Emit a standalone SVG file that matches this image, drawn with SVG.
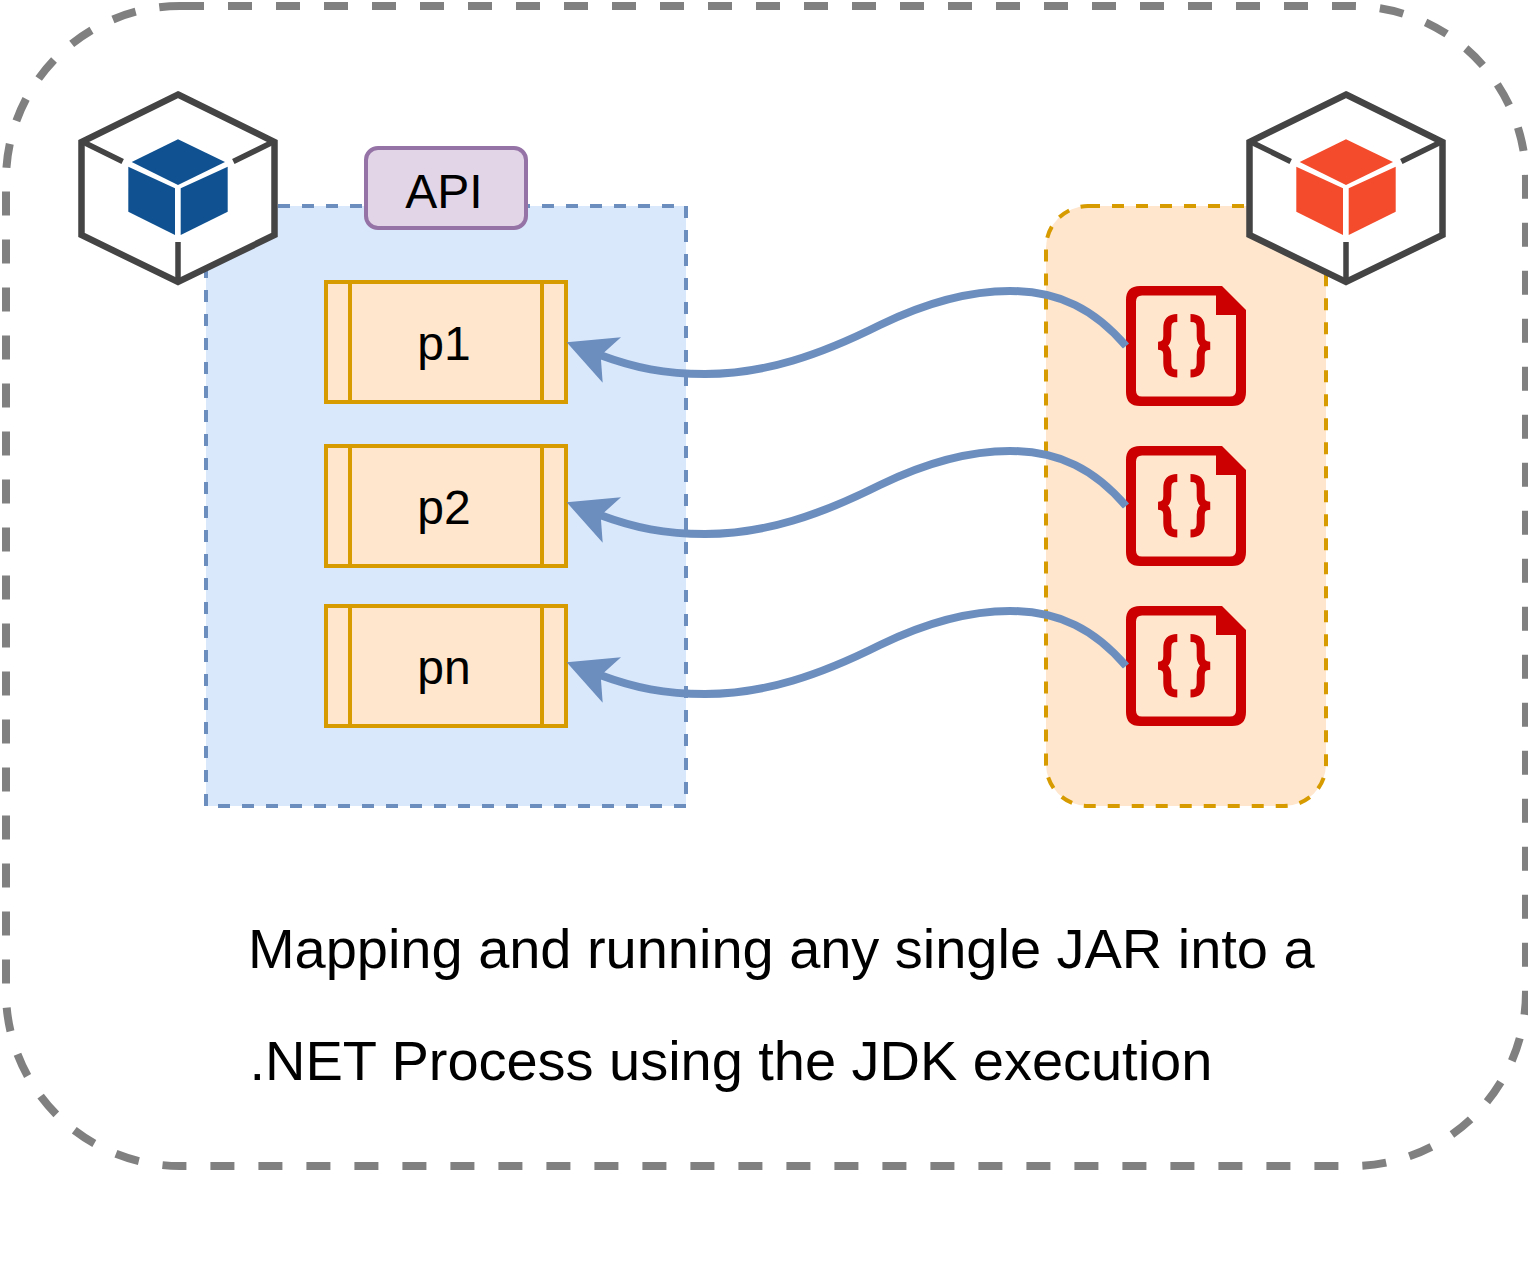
<svg xmlns="http://www.w3.org/2000/svg" xmlns:xlink="http://www.w3.org/1999/xlink" width="1528" height="1272" viewBox="0 0 1528 1272">
<style>
text{font-family:"Liberation Sans",Arial,sans-serif;fill:#000;font-size:48px}
.c{text-anchor:middle}
.main{font-size:56px;letter-spacing:-0.03px}
.box{fill:#ffe6cc;stroke:#d79b00;stroke-width:4}
.div{fill:none;stroke:#d79b00;stroke-width:4}
.shell{fill:#fff;stroke:#444;stroke-width:6.500;stroke-linejoin:miter}
.spoke{fill:none;stroke:#444;stroke-width:5.500}
.conn{fill:none;stroke:#6c8ebf;stroke-width:8}
.head{fill:#6c8ebf}
.fileBody{fill:#cc0000;fill-rule:evenodd}
.brace{fill:none;stroke:#cc0000;stroke-width:8}
</style>
<defs>
<g id="cubeFrame">
<path class="shell" d="M178 94.500L274.500 142L274.500 235L178 282L81.500 235L81.500 142Z"/>
<path class="spoke" d="M81 141L122.700 161.500M275 141L233.300 161.500M178 282L178 242"/>
</g>
<g id="cubeFaces">
<path d="M178 139.300L225 162L178 185L131.700 162Z"/>
<path d="M128.300 166.700L175 188.300L175 235L128.300 211.700Z"/>
<path d="M227.700 166.700L180.700 188.300L180.700 235L227.700 211.700Z"/>
</g>
<g id="file">
<path class="fileBody" d="M1140 286L1222 286L1246 310L1246 392Q1246 406 1232 406L1140 406Q1126 406 1126 392L1126 300Q1126 286 1140 286ZM1142 295.500Q1136 295.500 1136 301.500L1136 390.500Q1136 396.500 1142 396.500L1230 396.500Q1236 396.500 1236 390.500L1236 315L1216 315L1216 295.500Z"/>
<path class="brace" d="M1177.300 318C1170 318 1167.300 321 1167.300 328L1167.300 336C1167.300 342 1165 345 1158.500 345.700C1165 346.500 1167.300 349 1167.300 355L1167.300 363C1167.300 370 1170 373.500 1177.300 373.500"/>
<path class="brace" d="M1190.500 318C1198 318 1200.700 321 1200.700 328L1200.700 336C1200.700 342 1203 345 1209.800 345.700C1203 346.500 1200.700 349 1200.700 355L1200.700 363C1200.700 370 1198 373.500 1190.500 373.500"/>
</g>
<g id="arrow">
<path class="conn" d="M1126 346C1095 310 1060 291 1010 291C960 291 915 308 880 325C820 355 765 374 705 374C665 374 635 368 600 355"/>
<path class="head" d="M566.700 342.300L621 337.300L603.500 353L601 360L602.700 382.700Z"/>
</g>
</defs>
<g id="outer-frame">
<rect x="6" y="6" width="1520" height="1160" rx="174" fill="none" stroke="#808080" stroke-width="8" stroke-dasharray="24 24"/>
</g>
<g id="api-container">
<rect x="206" y="206" width="480" height="600" fill="#dae8fc" stroke="#6c8ebf" stroke-width="4" stroke-dasharray="12 12"/>
</g>
<g id="jar-container">
<rect x="1046" y="206" width="280" height="600" rx="42" fill="#ffe6cc" stroke="#d79b00" stroke-width="4" stroke-dasharray="12 12"/>
</g>
<g id="api-label">
<rect x="366" y="148" width="160" height="80" rx="12" fill="#e1d5e7" stroke="#9673a6" stroke-width="4"/>
<text class="c" x="444" y="208">API</text>
</g>
<g id="p1">
<rect class="box" x="326" y="282" width="240" height="120"/>
<path class="div" d="M350 282V402M542 282V402"/>
<text class="c" x="444" y="360">p1</text>
</g>
<g id="p2">
<rect class="box" x="326" y="446" width="240" height="120"/>
<path class="div" d="M350 446V566M542 446V566"/>
<text class="c" x="444" y="524">p2</text>
</g>
<g id="pn">
<rect class="box" x="326" y="606" width="240" height="120"/>
<path class="div" d="M350 606V726M542 606V726"/>
<text class="c" x="444" y="684">pn</text>
</g>
<g id="cube-left">
<use xlink:href="#cubeFrame"/>
<use xlink:href="#cubeFaces" fill="#105291"/>
</g>
<g id="cube-right">
<use xlink:href="#cubeFrame" x="1168"/>
<use xlink:href="#cubeFaces" x="1168" fill="#f34b2b"/>
</g>
<g id="file-1"><use xlink:href="#file"/></g>
<g id="file-2"><use xlink:href="#file" y="160"/></g>
<g id="file-3"><use xlink:href="#file" y="320"/></g>
<g id="connectors">
<use xlink:href="#arrow"/>
<use xlink:href="#arrow" y="160"/>
<use xlink:href="#arrow" y="320"/>
</g>
<g id="caption">
<text class="main" x="248" y="968">Mapping and running any single JAR into a</text>
<text class="main" x="249.500" y="1080">.NET Process using the JDK execution</text>
</g>
</svg>
